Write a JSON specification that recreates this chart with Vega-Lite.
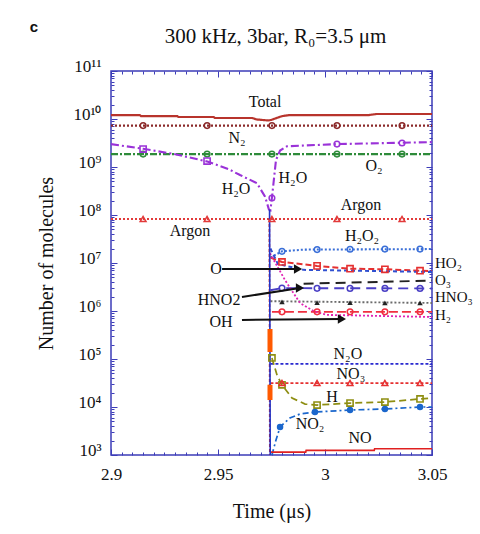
{
"$schema": "https://vega.github.io/schema/vega-lite/v6.json",
"width": 321, "height": 384,
"autosize": {"type": "none"},
"padding": {"left": 111, "top": 71, "right": 48, "bottom": 79},
"background": "white",
"title": {"text": "300 kHz, 3bar, R₀=3.5 μm", "font": "Liberation Serif", "fontSize": 21, "fontWeight": "normal", "color": "#111111", "anchor": "middle", "frame": "group", "offset": -27, "dx": 4},
"datasets": {
"lines": [
{"s":"Total","t":2.9,"v":1.2e10},{"s":"Total","t":2.9135,"v":1.2e10},{"s":"Total","t":2.914,"v":1.15e10},{"s":"Total","t":2.931,"v":1.15e10},{"s":"Total","t":2.9315,"v":1.1e10},{"s":"Total","t":2.948,"v":1.1e10},{"s":"Total","t":2.9485,"v":1.05e10},{"s":"Total","t":2.966,"v":1.05e10},{"s":"Total","t":2.968,"v":9.8e9},{"s":"Total","t":2.9735,"v":9.3e9},{"s":"Total","t":2.975,"v":9.6e9},{"s":"Total","t":2.98,"v":1.15e10},{"s":"Total","t":2.983,"v":1.2e10},{"s":"Total","t":3.02,"v":1.2e10},{"s":"Total","t":3.024,"v":1.27e10},{"s":"Total","t":3.05,"v":1.27e10},
{"s":"N2","t":2.9,"v":7.3e9},{"s":"N2","t":3.05,"v":7.3e9},
{"s":"O2","t":2.9,"v":1.86e9},{"s":"O2","t":3.05,"v":1.86e9},
{"s":"H2O","t":2.9,"v":3.0e9},{"s":"H2O","t":2.915,"v":2.4e9},{"s":"H2O","t":2.93,"v":1.85e9},{"s":"H2O","t":2.945,"v":1.3e9},{"s":"H2O","t":2.955,"v":9e8},{"s":"H2O","t":2.9603,"v":6.8e8},{"s":"H2O","t":2.9682,"v":4.6e8},{"s":"H2O","t":2.972,"v":2.4e8},{"s":"H2O","t":2.9738,"v":1.3e8},{"s":"H2O","t":2.9745,"v":1.25e8},{"s":"H2O","t":2.9752,"v":2.3e8},{"s":"H2O","t":2.9771,"v":1.4e9},{"s":"H2O","t":2.979,"v":2.2e9},{"s":"H2O","t":2.9822,"v":2.7e9},{"s":"H2O","t":3.0056,"v":3.0e9},{"s":"H2O","t":3.036,"v":3.2e9},{"s":"H2O","t":3.05,"v":3.3e9},
{"s":"Argon","t":2.9,"v":8.25e7},{"s":"Argon","t":3.05,"v":8.25e7},
{"s":"H2O2","t":2.9745,"v":1.3e7},{"s":"H2O2","t":2.9799,"v":1.75e7},{"s":"H2O2","t":2.99,"v":1.9e7},{"s":"H2O2","t":3.05,"v":1.95e7},
{"s":"HO2","t":2.9745,"v":1.3e7},{"s":"HO2","t":2.9799,"v":1.05e7},{"s":"HO2","t":2.9963,"v":8.7e6},{"s":"HO2","t":3.0117,"v":7.6e6},{"s":"HO2","t":3.028,"v":7.4e6},{"s":"HO2","t":3.0444,"v":6.9e6},{"s":"HO2","t":3.05,"v":6.8e6},
{"s":"O","t":2.9745,"v":2.0e7},{"s":"O","t":2.978,"v":9.5e6},{"s":"O","t":2.99,"v":7.2e6},{"s":"O","t":3.05,"v":6.5e6},
{"s":"O3","t":2.99,"v":3.7e6},{"s":"O3","t":3.05,"v":4.3e6},
{"s":"HNO2","t":2.9745,"v":2.7e6},{"s":"HNO2","t":2.9799,"v":3.0e6},{"s":"HNO2","t":3.05,"v":2.95e6},
{"s":"HNO3","t":2.9745,"v":1.6e6},{"s":"HNO3","t":3.05,"v":1.47e6},
{"s":"H2","t":2.9752,"v":9.6e5},{"s":"H2","t":3.05,"v":9.6e5},
{"s":"OH","t":2.9743,"v":1.6e7},{"s":"OH","t":2.9813,"v":4.4e6},{"s":"OH","t":2.9883,"v":1.47e6},{"s":"OH","t":2.9953,"v":9.6e5},{"s":"OH","t":3.0009,"v":8.3e5},{"s":"OH","t":3.05,"v":7.5e5},
{"s":"N2O","t":2.9745,"v":7.9e4},{"s":"N2O","t":3.05,"v":7.9e4},
{"s":"NO3","t":2.9745,"v":3.16e4},{"s":"NO3","t":3.05,"v":3.16e4},
{"s":"H","t":2.9752,"v":1.05e5},{"s":"H","t":2.9776,"v":4.6e4},{"s":"H","t":2.9799,"v":2.9e4},{"s":"H","t":2.9846,"v":1.54e4},{"s":"H","t":2.9907,"v":1.15e4},{"s":"H","t":2.9963,"v":1.1e4},{"s":"H","t":3.0117,"v":1.21e4},{"s":"H","t":3.028,"v":1.27e4},{"s":"H","t":3.0444,"v":1.47e4},{"s":"H","t":3.05,"v":1.54e4},
{"s":"NO2","t":2.9752,"v":1000},{"s":"NO2","t":2.9771,"v":2050},{"s":"NO2","t":2.979,"v":3830},{"s":"NO2","t":2.9836,"v":5900},{"s":"NO2","t":2.9883,"v":7150},{"s":"NO2","t":2.9963,"v":7900},{"s":"NO2","t":3.0117,"v":8660},{"s":"NO2","t":3.028,"v":9100},{"s":"NO2","t":3.0444,"v":10000},{"s":"NO2","t":3.05,"v":10000},
{"s":"NO","t":2.9745,"v":1150},{"s":"NO","t":2.991,"v":1150},{"s":"NO","t":2.9912,"v":1250},{"s":"NO","t":3.023,"v":1250},{"s":"NO","t":3.0232,"v":1350},{"s":"NO","t":3.05,"v":1350},
{"s":"spikeR","t":2.974,"v":8.25e7},{"s":"spikeR","t":2.9742,"v":1000},
{"s":"spike","t":2.9741,"v":1.3e8},{"s":"spike","t":2.9744,"v":1000}
],
"orange": [
{"s":"orange1","t":2.9743,"v":4.2e5},{"s":"orange1","t":2.97431,"v":1.4e5},
{"s":"orange2","t":2.9743,"v":2.9e4},{"s":"orange2","t":2.97431,"v":1.4e4}
],
"markers": [
{"s":"N2","t":2.915,"v":7.3e9},{"s":"N2","t":2.9449,"v":7.3e9},{"s":"N2","t":2.9752,"v":7.3e9},{"s":"N2","t":3.0056,"v":7.3e9},{"s":"N2","t":3.036,"v":7.3e9},
{"s":"O2","t":2.915,"v":1.86e9},{"s":"O2","t":2.9449,"v":1.86e9},{"s":"O2","t":2.9752,"v":1.86e9},{"s":"O2","t":3.0056,"v":1.86e9},{"s":"O2","t":3.036,"v":1.86e9},
{"s":"Argon","t":2.915,"v":8.25e7},{"s":"Argon","t":2.9449,"v":8.25e7},{"s":"Argon","t":2.9752,"v":8.25e7},{"s":"Argon","t":3.0056,"v":8.25e7},{"s":"Argon","t":3.036,"v":8.25e7},
{"s":"H2O","t":2.915,"v":2.37e9},{"s":"H2O","t":2.9449,"v":1.33e9},{"s":"H2O","t":2.9752,"v":2.26e8},{"s":"H2O","t":3.0056,"v":3.0e9},{"s":"H2O","t":3.036,"v":3.16e9},
{"s":"H2O2","t":2.9799,"v":1.75e7},{"s":"H2O2","t":2.9963,"v":1.9e7},{"s":"H2O2","t":3.0117,"v":1.93e7},{"s":"H2O2","t":3.028,"v":1.95e7},{"s":"H2O2","t":3.0444,"v":1.95e7},
{"s":"HO2","t":2.9799,"v":1.05e7},{"s":"HO2","t":2.9963,"v":8.7e6},{"s":"HO2","t":3.0117,"v":7.6e6},{"s":"HO2","t":3.028,"v":7.4e6},{"s":"HO2","t":3.0444,"v":6.9e6},
{"s":"HNO2","t":2.9799,"v":3.0e6},{"s":"HNO2","t":2.9963,"v":2.97e6},{"s":"HNO2","t":3.0117,"v":2.96e6},{"s":"HNO2","t":3.028,"v":2.95e6},{"s":"HNO2","t":3.0444,"v":2.95e6},
{"s":"HNO3","t":2.9799,"v":1.55e6},{"s":"HNO3","t":2.9963,"v":1.5e6},{"s":"HNO3","t":3.0117,"v":1.5e6},{"s":"HNO3","t":3.028,"v":1.48e6},{"s":"HNO3","t":3.0444,"v":1.47e6},
{"s":"H2","t":2.9799,"v":9.6e5},{"s":"H2","t":2.9963,"v":9.6e5},{"s":"H2","t":3.0117,"v":9.6e5},{"s":"H2","t":3.028,"v":9.6e5},{"s":"H2","t":3.0444,"v":9.6e5},
{"s":"NO3","t":2.9799,"v":3.16e4},{"s":"NO3","t":2.9963,"v":3.16e4},{"s":"NO3","t":3.0117,"v":3.16e4},{"s":"NO3","t":3.028,"v":3.16e4},{"s":"NO3","t":3.0444,"v":3.16e4},
{"s":"H","t":2.9752,"v":1.05e5},{"s":"H","t":2.9799,"v":2.9e4},{"s":"H","t":2.9963,"v":1.1e4},{"s":"H","t":3.0117,"v":1.21e4},{"s":"H","t":3.028,"v":1.27e4},{"s":"H","t":3.0444,"v":1.47e4},
{"s":"NO2","t":2.979,"v":3830},{"s":"NO2","t":2.9953,"v":7900},{"s":"NO2","t":3.0117,"v":8660},{"s":"NO2","t":3.028,"v":9100},{"s":"NO2","t":3.0444,"v":10000}
],
"labels": [
{"txt":"Total","t":2.972,"v":2.26e10},
{"txt":"N₂","t":2.9589,"v":4.0e9},
{"txt":"H₂O","t":2.9584,"v":3.47e8},
{"txt":"H₂O","t":2.985,"v":5.9e8},
{"txt":"O₂","t":3.0229,"v":1.05e9},
{"txt":"Argon","t":2.9369,"v":4.64e7},
{"txt":"Argon","t":3.0168,"v":1.62e8},
{"txt":"H₂O₂","t":3.0173,"v":3.65e7},
{"txt":"O","t":2.9491,"v":7.5e6},
{"txt":"HNO2","t":2.9505,"v":1.7e6},
{"txt":"OH","t":2.9514,"v":5.9e5},
{"txt":"N₂O","t":3.0107,"v":1.27e5},
{"txt":"NO₃","t":3.0121,"v":4.87e4},
{"txt":"H","t":3.0033,"v":1.62e4},
{"txt":"NO₂","t":2.993,"v":4430},
{"txt":"NO","t":3.0164,"v":2260}
],
"rlabels": [
{"txt":"HO₂","t":3.0514,"v":1.0e7},
{"txt":"O₃","t":3.0514,"v":4.4e6},
{"txt":"HNO₃","t":3.0514,"v":1.96e6},
{"txt":"H₂","t":3.0514,"v":8.25e5}
],
"panel": [{"txt":"c","t":2.864,"v":8.26e11}],
"arrows": [
{"t":2.9519,"v":7.5e6,"t2":2.9874,"v2":7.5e6},
{"t":2.9612,"v":1.96e6,"t2":2.9883,"v2":3.0e6},
{"t":2.9612,"v":6.5e5,"t2":3.0079,"v2":6.8e5}
]
},
"encoding": {
"x": {"field":"t","type":"quantitative","scale":{"domain":[2.9,3.05],"nice":false,"zero":false},"axis":null},
"y": {"field":"v","type":"quantitative","scale":{"type":"log","domain":[1000,100000000000],"nice":false},"axis":null}
},
"layer": [
{"data":{"name":"lines"},
 "mark":{"type":"line","clip":true},
 "encoding":{
  "x":{"field":"t","type":"quantitative","scale":{"domain":[2.9,3.05],"nice":false,"zero":false},
   "axis":{"orient":"bottom","values":[2.9,2.905,2.91,2.915,2.92,2.925,2.93,2.935,2.94,2.945,2.95,2.955,2.96,2.965,2.97,2.975,2.98,2.985,2.99,2.995,3.0,3.005,3.01,3.015,3.02,3.025,3.03,3.035,3.04,3.045,3.05],
    "labelExpr":"abs(datum.value*20-round(datum.value*20))<0.01 ? format(datum.value,'~g') : ''",
    "tickSize":{"condition":{"test":"abs(datum.value*20-round(datum.value*20))<0.01","value":-6},"value":-3},
    "labelPadding":17,"labelFlush":false,"labelOverlap":false,"title":"Time (μs)","titlePadding":16}},
  "y":{"field":"v","type":"quantitative","scale":{"type":"log","domain":[1000,100000000000],"nice":false},
   "axis":{"orient":"left","values":[1e3,2e3,3e3,4e3,5e3,6e3,7e3,8e3,9e3,1e4,2e4,3e4,4e4,5e4,6e4,7e4,8e4,9e4,1e5,2e5,3e5,4e5,5e5,6e5,7e5,8e5,9e5,1e6,2e6,3e6,4e6,5e6,6e6,7e6,8e6,9e6,1e7,2e7,3e7,4e7,5e7,6e7,7e7,8e7,9e7,1e8,2e8,3e8,4e8,5e8,6e8,7e8,8e8,9e8,1e9,2e9,3e9,4e9,5e9,6e9,7e9,8e9,9e9,1e10,2e10,3e10,4e10,5e10,6e10,7e10,8e10,9e10,1e11],
    "labelExpr":"abs(log(datum.value)/LN10-round(log(datum.value)/LN10))<0.001 ? '10' + ['','','','³','⁴','⁵','⁶','⁷','⁸','⁹','¹⁰','¹¹'][round(log(datum.value)/LN10)] : ''",
    "tickSize":{"condition":{"test":"abs(log(datum.value)/LN10-round(log(datum.value)/LN10))<0.001","value":-6},"value":-3},
    "labelPadding":16,"labelBaseline":"alphabetic","labelFlush":false,"labelOverlap":false,"title":"Number of molecules","titlePadding":16}},
  "color":{"field":"s","type":"nominal","legend":null,"scale":{"domain":["Total","N2","O2","H2O","Argon","H2O2","HO2","O","O3","HNO2","HNO3","H2","OH","N2O","NO3","H","NO2","NO","spike","spikeR"],"range":["#b8342c","#8b2a2a","#2e8b3a","#9a32d8","#e23a3a","#3a6fd8","#e53030","#2f4fd0","#222222","#4a3fc5","#6b6b6b","#f03040","#e024b4","#2a2ad0","#e53030","#8e8e12","#1a66cc","#e02020","#2433c4","#e02020"]}},
  "strokeDash":{"field":"s","type":"nominal","legend":null,"scale":{"domain":["Total","N2","O2","H2O","Argon","H2O2","HO2","O","O3","HNO2","HNO3","H2","OH","N2O","NO3","H","NO2","NO","spike","spikeR"],"range":[[1,0],[2,2],[7,2,2,2],[8,3,2,3],[2,2],[2,2],[6,3],[4,3],[10,6],[10,6],[2,2],[9,4],[2,2],[3,2],[3,2],[7,4],[6,3,2,3],[1,0],[1,0],[3,2]]}},
  "strokeWidth":{"field":"s","type":"ordinal","legend":null,"scale":{"domain":["Total","N2","O2","H2O","Argon","H2O2","HO2","O","O3","HNO2","HNO3","H2","OH","N2O","NO3","H","NO2","NO","spike","spikeR"],"range":[2.2,1.6,1.8,2.2,1.8,1.8,2,1.6,2,2,1.6,2,2,2,2,2.2,2,2,2.5,1.5]}}
 }},
{"data":{"name":"orange"},
 "mark":{"type":"line","clip":true,"color":"#ff5a00","strokeWidth":5},
 "encoding":{"detail":{"field":"s","type":"nominal"}}},
{"data":{"name":"markers"},
 "transform":[{"filter":"indexof(['N2','O2','H2O2','HNO2','H2'], datum.s) >= 0 || (datum.s == 'H2O' && datum.t > 2.97)"}],
 "mark":{"type":"point","shape":"circle","filled":false,"size":32,"strokeWidth":1.5,"opacity":1,"clip":true},
 "encoding":{
  "x":{"field":"t","type":"quantitative","scale":{"domain":[2.9,3.05],"nice":false,"zero":false},
   "axis":{"orient":"top","values":[2.9,2.905,2.91,2.915,2.92,2.925,2.93,2.935,2.94,2.945,2.95,2.955,2.96,2.965,2.97,2.975,2.98,2.985,2.99,2.995,3.0,3.005,3.01,3.015,3.02,3.025,3.03,3.035,3.04,3.045,3.05],"labels":false,"title":null,
    "tickSize":{"condition":{"test":"abs(datum.value*20-round(datum.value*20))<0.01","value":-6},"value":-3}}},
  "y":{"field":"v","type":"quantitative","scale":{"type":"log","domain":[1000,100000000000],"nice":false},
   "axis":{"orient":"right","values":[1e3,2e3,3e3,4e3,5e3,6e3,7e3,8e3,9e3,1e4,2e4,3e4,4e4,5e4,6e4,7e4,8e4,9e4,1e5,2e5,3e5,4e5,5e5,6e5,7e5,8e5,9e5,1e6,2e6,3e6,4e6,5e6,6e6,7e6,8e6,9e6,1e7,2e7,3e7,4e7,5e7,6e7,7e7,8e7,9e7,1e8,2e8,3e8,4e8,5e8,6e8,7e8,8e8,9e8,1e9,2e9,3e9,4e9,5e9,6e9,7e9,8e9,9e9,1e10,2e10,3e10,4e10,5e10,6e10,7e10,8e10,9e10,1e11],"labels":false,"title":null,
    "tickSize":{"condition":{"test":"abs(log(datum.value)/LN10-round(log(datum.value)/LN10))<0.001","value":-6},"value":-3}}},
  "color":{"field":"s","type":"nominal","legend":null}
 }},
{"data":{"name":"markers"},
 "transform":[{"filter":"indexof(['HO2','H'], datum.s) >= 0 || (datum.s == 'H2O' && datum.t < 2.97)"}],
 "mark":{"type":"point","shape":"square","filled":false,"size":38,"strokeWidth":1.6,"opacity":1,"clip":true},
 "encoding":{"color":{"field":"s","type":"nominal","legend":null}}},
{"data":{"name":"markers"},
 "transform":[{"filter":"indexof(['Argon','NO3'], datum.s) >= 0"}],
 "mark":{"type":"point","shape":"triangle-up","filled":false,"size":34,"strokeWidth":1.5,"opacity":1,"clip":true},
 "encoding":{"color":{"field":"s","type":"nominal","legend":null}}},
{"data":{"name":"markers"},
 "transform":[{"filter":"datum.s == 'HNO3'"}],
 "mark":{"type":"point","shape":"triangle-up","filled":true,"size":30,"color":"#222222","opacity":1,"clip":true}},
{"data":{"name":"markers"},
 "transform":[{"filter":"datum.s == 'NO2'"}],
 "mark":{"type":"point","shape":"circle","filled":true,"size":42,"color":"#1a66cc","opacity":1,"clip":true}},
{"data":{"name":"arrows"},
 "mark":{"type":"rule","color":"#111111","strokeWidth":2},
 "encoding":{"x2":{"field":"t2"},"y2":{"field":"v2"}}},
{"data":{"name":"arrows"},
 "mark":{"type":"point","shape":"triangle-right","filled":true,"color":"#111111","size":90,"opacity":1},
 "encoding":{
  "x":{"field":"t2","type":"quantitative","scale":{"domain":[2.9,3.05],"nice":false,"zero":false},"axis":null},
  "y":{"field":"v2","type":"quantitative","scale":{"type":"log","domain":[1000,100000000000],"nice":false},"axis":null}}},
{"data":{"name":"labels"},
 "mark":{"type":"text","font":"Liberation Serif","fontSize":16,"color":"#111111","align":"center","baseline":"middle"},
 "encoding":{"text":{"field":"txt","type":"nominal"}}},
{"data":{"name":"rlabels"},
 "mark":{"type":"text","font":"Liberation Serif","fontSize":15,"color":"#111111","align":"left","baseline":"middle"},
 "encoding":{"text":{"field":"txt","type":"nominal"}}},
{"data":{"name":"panel"},
 "mark":{"type":"text","font":"Liberation Sans","fontSize":15,"fontWeight":"bold","color":"#111111","align":"center","baseline":"middle"},
 "encoding":{"text":{"field":"txt","type":"nominal"}}}
],
"resolve": {"axis": {"x": "independent", "y": "independent"}},
"config": {
 "view": {"stroke": "#3d3db8", "strokeWidth": 1.5},
 "axis": {"domain": false, "grid": false, "tickColor": "#3d3db8", "tickWidth": 1, "labelFont": "Liberation Serif", "labelFontSize": 17, "labelColor": "#111111", "titleFont": "Liberation Serif", "titleFontSize": 20, "titleFontWeight": "normal", "titleColor": "#111111"}
}
}
